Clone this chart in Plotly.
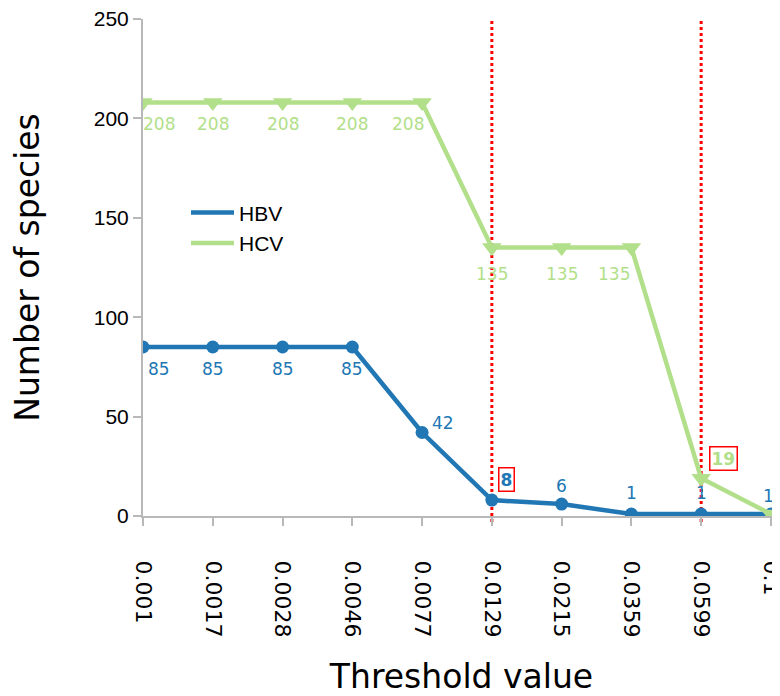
import plotly.graph_objects as go

thresholds = ["0.001", "0.0017", "0.0028", "0.0046", "0.0077", "0.0129", "0.0215", "0.0359", "0.0599", "0.1"]
hbv = [85, 85, 85, 85, 42, 8, 6, 1, 1, 1]
hcv = [208, 208, 208, 208, 208, 135, 135, 135, 19, 1]
cutoffs = ["0.0129", "0.0599"]
hbv_boxed = "0.0129"
hcv_boxed = "0.0599"

BLUE = "#2077b4"
GREEN = "#b2df8a"
AXC = "#b8b8b8"

xi = list(range(len(thresholds)))

fig = go.Figure()
fig.add_trace(go.Scatter(x=xi, y=hbv, name="HBV", mode="lines+markers", showlegend=False,
                         line=dict(color=BLUE, width=4.5),
                         marker=dict(symbol="circle", size=13, color=BLUE)))
fig.add_trace(go.Scatter(x=xi, y=hcv, name="HCV", mode="lines+markers", showlegend=False,
                         line=dict(color=GREEN, width=4.5),
                         marker=dict(symbol="triangle-down", size=17, color=GREEN)))
# legend entries (lines only, as in the reference)
fig.add_trace(go.Scatter(x=[None], y=[None], name="HBV", mode="lines", line=dict(color=BLUE, width=4.5)))
fig.add_trace(go.Scatter(x=[None], y=[None], name="HCV", mode="lines", line=dict(color=GREEN, width=4.5)))

for c in cutoffs:
    ci = thresholds.index(c)
    fig.add_shape(type="line", x0=ci, x1=ci, xref="x", yref="paper", y0=-0.012, y1=1,
                  line=dict(color="red", width=3, dash="dot"), layer="below")

lab_font = dict(family="DejaVu Sans", size=17)

def add_label(i, y, dx, dy, color, boxed):
    fig.add_annotation(x=i, y=y, text=f"<b>{y}</b>" if boxed else str(y), showarrow=False,
                       xshift=dx, yshift=dy, font=dict(lab_font, color=color),
                       bordercolor="red" if boxed else None, borderwidth=1.5 if boxed else 0,
                       borderpad=1, bgcolor="white" if boxed else None)

# HBV labels
hbv_shift = [(16, -22), (0, -22), (0, -22), (0, -22), (21, 10), (15, 21), (0, 18), (0, 21), (0, 21), (-2, 18)]
for i, y in enumerate(hbv):
    dx, dy = hbv_shift[i]
    add_label(i, y, dx, dy, BLUE, thresholds[i] == hbv_boxed)

# HCV labels (last point's label hidden behind HBV label)
hcv_shift = [(16, -21), (0, -21), (0, -21), (0, -21), (-14, -21), (0, -26), (0, -26), (-17, -26), (22, 20)]
for i, y in enumerate(hcv[:9]):
    dx, dy = hcv_shift[i]
    add_label(i, y, dx, dy, GREEN, thresholds[i] == hcv_boxed)

fig.update_layout(
    width=780, height=696,
    margin=dict(l=135, r=8, t=11, b=188),
    plot_bgcolor="white", paper_bgcolor="white",
    showlegend=True,
    legend=dict(x=0.0675, y=0.651, xanchor="left", yanchor="top", itemwidth=43,
                font=dict(family="Liberation Sans", size=21, color="black"),
                bgcolor="rgba(0,0,0,0)", tracegroupgap=0),
    xaxis=dict(range=[0, 9.13], tickmode="array", tickvals=xi, ticktext=thresholds,
               showgrid=False, zeroline=False, automargin="bottom",
               showline=True, linecolor=AXC, linewidth=2,
               ticks="outside", ticklen=8, tickcolor=AXC, tickwidth=2,
               ticklabelstandoff=30, ticklabeloverflow="allow",
               tickangle=90, tickfont=dict(family="DejaVu Sans", size=22, color="black"),
               title=dict(text="Threshold value", font=dict(family="DejaVu Sans", size=33, color="black"),
                          standoff=29)),
    yaxis=dict(range=[0, 250], dtick=50, showgrid=False, zeroline=False, automargin="left",
               showline=True, linecolor=AXC, linewidth=2,
               ticks="outside", ticklen=8, tickcolor=AXC, tickwidth=2,
               ticklabeloverflow="allow",
               tickfont=dict(family="Liberation Sans", size=21, color="black"),
               title=dict(text="Number of species", font=dict(family="DejaVu Sans", size=33, color="black"),
                          standoff=45)),
)

fig.write_html("out.html")
